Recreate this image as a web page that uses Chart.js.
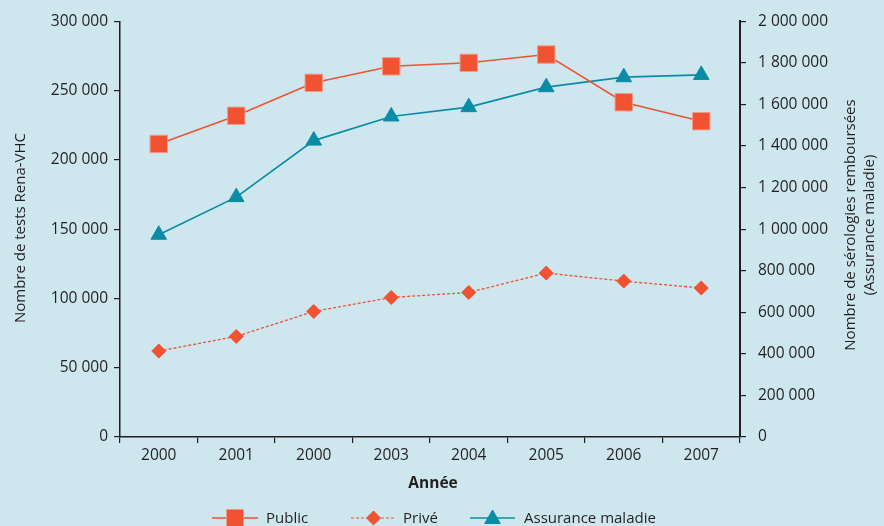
<!DOCTYPE html>
<html>
<head>
<meta charset="utf-8">
<script src="https://cdn.jsdelivr.net/npm/chart.js@4.4.1/dist/chart.umd.min.js"></script>
<style>
  html, body { margin: 0; padding: 0; background: #cee6ed; }
  canvas { display: block; }
</style>
</head>
<body>
<canvas id="c" width="884" height="526"></canvas>
<script>
// Années (la troisième étiquette est bien « 2000 » dans la source)
const years = ['2000', '2001', '2000', '2003', '2004', '2005', '2006', '2007'];

// Nombre de tests Rena-VHC (axe de gauche)
const publicTests = [211500, 231800, 255600, 267500, 270000, 276000, 241600, 227900];
const priveTests  = [62000, 72600, 90600, 100700, 104300, 118300, 112500, 107500];

// Nombre de sérologies remboursées, Assurance maladie (axe de droite)
const assuranceSerologies = [973000, 1154000, 1426000, 1542000, 1587000, 1683000, 1731000, 1742000];

// Bornes des axes
const leftAxis  = { min: 0, max: 300000, step: 50000 };
const rightAxis = { min: 0, max: 2000000, step: 200000 };

const seriesNames = ['Public', 'Privé', 'Assurance maladie'];

const RED = '#f05232';
const TEAL = '#0b8ca6';
const INK = '#231f20';
const BG = '#cee6ed';
const FONT = '"Open Sans", sans-serif';

const fmt = v => String(v).replace(/\B(?=(\d{3})+(?!\d))/g, ' ');

const decor = {
  id: 'decor',
  beforeDraw(chart) {
    const ctx = chart.ctx;
    ctx.save();
    ctx.fillStyle = BG;
    ctx.fillRect(0, 0, chart.width, chart.height);
    ctx.restore();
  },
  afterDraw(chart) {
    const ctx = chart.ctx;
    const H = Chart.helpers;
    ctx.save();
    ctx.fillStyle = INK;
    ctx.textAlign = 'center';
    ctx.textBaseline = 'middle';

    // Titre de l'axe de gauche
    ctx.font = '15px ' + FONT;
    ctx.save();
    ctx.translate(21, 228);
    ctx.rotate(-Math.PI / 2);
    ctx.fillText('Nombre de tests Rena-VHC', 0, 0);
    ctx.restore();

    // Titre de l'axe de droite (deux lignes)
    ctx.save();
    ctx.translate(851, 225);
    ctx.rotate(-Math.PI / 2);
    ctx.fillText('Nombre de sérologies remboursées', 0, 0);
    ctx.fillText('(Assurance maladie)', 0, 19);
    ctx.restore();

    // Titre de l'axe des abscisses
    ctx.font = 'bold 15.5px ' + FONT;
    ctx.fillText('Année', 433, 484);

    // Légende
    const ly = 518;
    const items = [
      { x0: 212, x1: 258, tx: 266, color: RED, dash: [], style: 'rect', r: 12, lw: 1.5, border: '#f39a85' },
      { x0: 351, x1: 396, tx: 403, color: RED, dash: [3, 2], style: 'rectRot', r: 7, lw: 1.2, border: RED },
      { x0: 470, x1: 515, tx: 524, color: TEAL, dash: [], style: 'triangle', r: 9, lw: 1.5, border: TEAL }
    ];
    ctx.font = '15px ' + FONT;
    ctx.textAlign = 'left';
    items.forEach((it, i) => {
      ctx.save();
      ctx.strokeStyle = it.color;
      ctx.lineWidth = it.lw;
      ctx.setLineDash(it.dash);
      ctx.beginPath();
      ctx.moveTo(it.x0, ly);
      ctx.lineTo(it.x1, ly);
      ctx.stroke();
      ctx.restore();
      ctx.save();
      ctx.fillStyle = it.color;
      ctx.strokeStyle = it.border;
      ctx.lineWidth = 1;
      H.drawPoint(ctx, { pointStyle: it.style, radius: it.r, rotation: 0, borderWidth: 1 },
        (it.x0 + it.x1) / 2, it.style === 'triangle' ? ly + 1 : ly);
      ctx.restore();
      ctx.fillStyle = INK;
      ctx.fillText(seriesNames[i], it.tx, ly + 1);
    });
    ctx.restore();
  }
};

const tickFont = { family: FONT, size: 15.5 };

new Chart(document.getElementById('c'), {
  type: 'line',
  data: {
    labels: years,
    datasets: [
      {
        label: seriesNames[0],
        data: publicTests,
        yAxisID: 'y',
        borderColor: RED,
        borderWidth: 1.5,
        backgroundColor: RED,
        pointStyle: 'rect',
        pointRadius: 12.3,
        pointHoverRadius: 12.3,
        pointBorderColor: '#f39a85',
        pointBorderWidth: 1,
        tension: 0
      },
      {
        label: seriesNames[1],
        data: priveTests,
        yAxisID: 'y',
        borderColor: RED,
        borderWidth: 1.3,
        borderDash: [3, 2],
        backgroundColor: RED,
        pointStyle: 'rectRot',
        pointRadius: 7,
        pointHoverRadius: 7,
        pointBorderColor: RED,
        pointBorderWidth: 1,
        tension: 0
      },
      {
        label: seriesNames[2],
        data: assuranceSerologies,
        yAxisID: 'y2',
        borderColor: TEAL,
        borderWidth: 1.7,
        backgroundColor: TEAL,
        pointStyle: 'triangle',
        pointRadius: 9,
        pointHoverRadius: 9,
        pointBorderColor: TEAL,
        pointBorderWidth: 1,
        tension: 0
      }
    ]
  },
  options: {
    responsive: false,
    animation: false,
    layout: { padding: { top: 20, left: 0, right: 0, bottom: 0 } },
    plugins: { legend: { display: false }, tooltip: { enabled: false } },
    scales: {
      x: {
        type: 'category',
        offset: true,
        grid: { display: true, drawOnChartArea: false, offset: true, tickLength: 6, color: INK, lineWidth: 1.2 },
        border: { display: true, color: INK, width: 1.5 },
        ticks: { font: tickFont, color: INK, padding: 3, maxRotation: 0, autoSkip: false },
        afterFit(s) { s.height = 89; }
      },
      y: {
        position: 'left',
        min: leftAxis.min,
        max: leftAxis.max,
        grid: { display: true, drawOnChartArea: false, tickLength: 6, color: INK, lineWidth: 1.2 },
        border: { display: true, color: INK, width: 1.5 },
        ticks: { stepSize: leftAxis.step, font: tickFont, color: INK, padding: 6, callback: v => fmt(v) },
        afterFit(s) { s.width = 120; }
      },
      y2: {
        position: 'right',
        min: rightAxis.min,
        max: rightAxis.max,
        grid: { display: true, drawOnChartArea: false, tickLength: 6, color: INK, lineWidth: 1.2 },
        border: { display: true, color: INK, width: 2 },
        ticks: { stepSize: rightAxis.step, font: tickFont, color: INK, padding: 12, callback: v => fmt(v) },
        afterFit(s) { s.width = 144; }
      }
    }
  },
  plugins: [decor]
});
</script>
</body>
</html>
